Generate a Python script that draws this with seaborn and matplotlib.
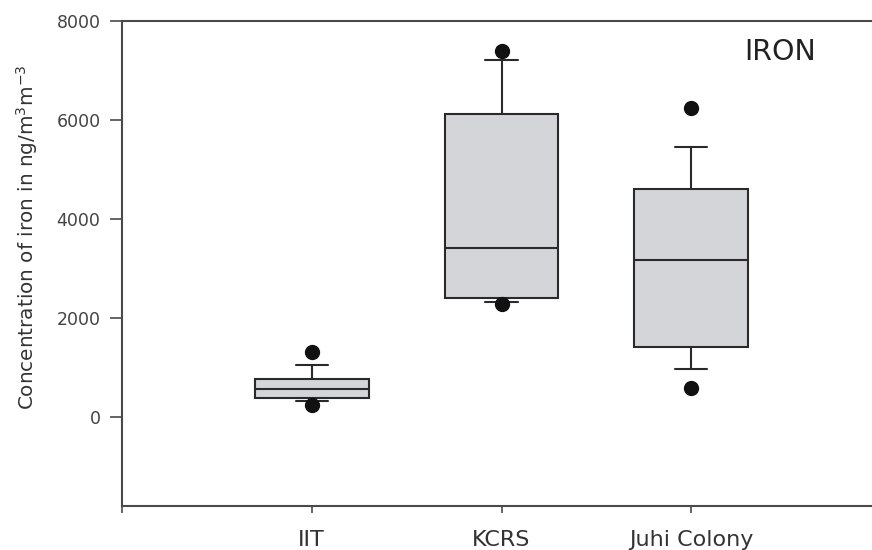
import matplotlib
matplotlib.use("Agg")
import matplotlib.pyplot as plt
import pandas as pd
import seaborn as sns

# Iron concentration summary per monitoring site (ng/m3)
sites = ["IIT", "KCRS", "Juhi Colony"]
q1 = [383, 2398, 1410]
median = [564, 3405, 3164]
q3 = [766, 6126, 4614]
whisker_low = [322, 2317, 967]
whisker_high = [1048, 7214, 5461]
outlier_low = [242, 2277, 584]
outlier_high = [1310, 7395, 6247]

y_ticks = [0, 2000, 4000, 6000, 8000]

# Long table: each site's summary values, with the quartiles listed twice so
# the 25/50/75th percentiles fall exactly on q1/median/q3 and the 12.5/87.5th
# percentiles on the whisker ends.
rows = []
for i, s in enumerate(sites):
    vals = [outlier_low[i], whisker_low[i], q1[i], q1[i], median[i],
            q3[i], q3[i], whisker_high[i], outlier_high[i]]
    rows += [{"site": s, "iron": v} for v in vals]
df = pd.DataFrame(rows)

sns.set_style("ticks")
plt.rcParams["font.family"] = ["DejaVu Sans"]

fig = plt.figure(figsize=(8.72, 5.5), dpi=100)
ax = fig.add_axes([122 / 872, 1 - 506 / 550, (881 - 122) / 872, (506 - 21) / 550])

line_c = "#2a2a2a"
sns.boxplot(
    data=df, x="site", y="iron", order=sites, ax=ax,
    whis=(12.5, 87.5), width=0.6, color="#d3d5d8",
    linecolor=line_c, linewidth=1.5,
    flierprops=dict(marker="o", markersize=10, markerfacecolor="#111111",
                    markeredgecolor="#111111"),
    capwidths=0.17,
)
for p in ax.patches:
    p.set_facecolor("#d3d5d8")
    p.set_edgecolor(line_c)

ax.set_xlim(-1, 3)
ax.set_ylim(-1800, 8000)
ax.set_yticks(y_ticks)
ax.set_yticklabels([str(t) for t in y_ticks])
ax.set_xticks([-1, 0, 1, 2])
ax.set_xticklabels(["", "IIT", "KCRS", "Juhi Colony"])

for side in ["left", "bottom", "top"]:
    ax.spines[side].set_color("#4a4a4a")
    ax.spines[side].set_linewidth(1.5)
ax.spines["right"].set_visible(False)

ax.tick_params(axis="y", direction="out", length=8.5, width=1.2,
               color="#4a4a4a", labelsize=12.5, labelcolor="#444444", pad=7)
ax.tick_params(axis="x", direction="out", length=5, width=1.2,
               color="#4a4a4a", labelsize=16, labelcolor="#333333", pad=12)

ax.set_xlabel("")
ax.set_ylabel("Concentration of iron in ng/m$^3$m$^{-3}$", fontsize=14.4,
              color="#333333")
ax.yaxis.set_label_coords(-0.108, 0.555)

# title-like tag placed in figure pixel coordinates (origin at bottom-left)
ax.text(780 / 100, (550 - 52) / 100, "IRON", transform=fig.dpi_scale_trans,
        fontsize=20.5, color="#222222", ha="center", va="center")

fig.savefig("out.png", dpi=100)
